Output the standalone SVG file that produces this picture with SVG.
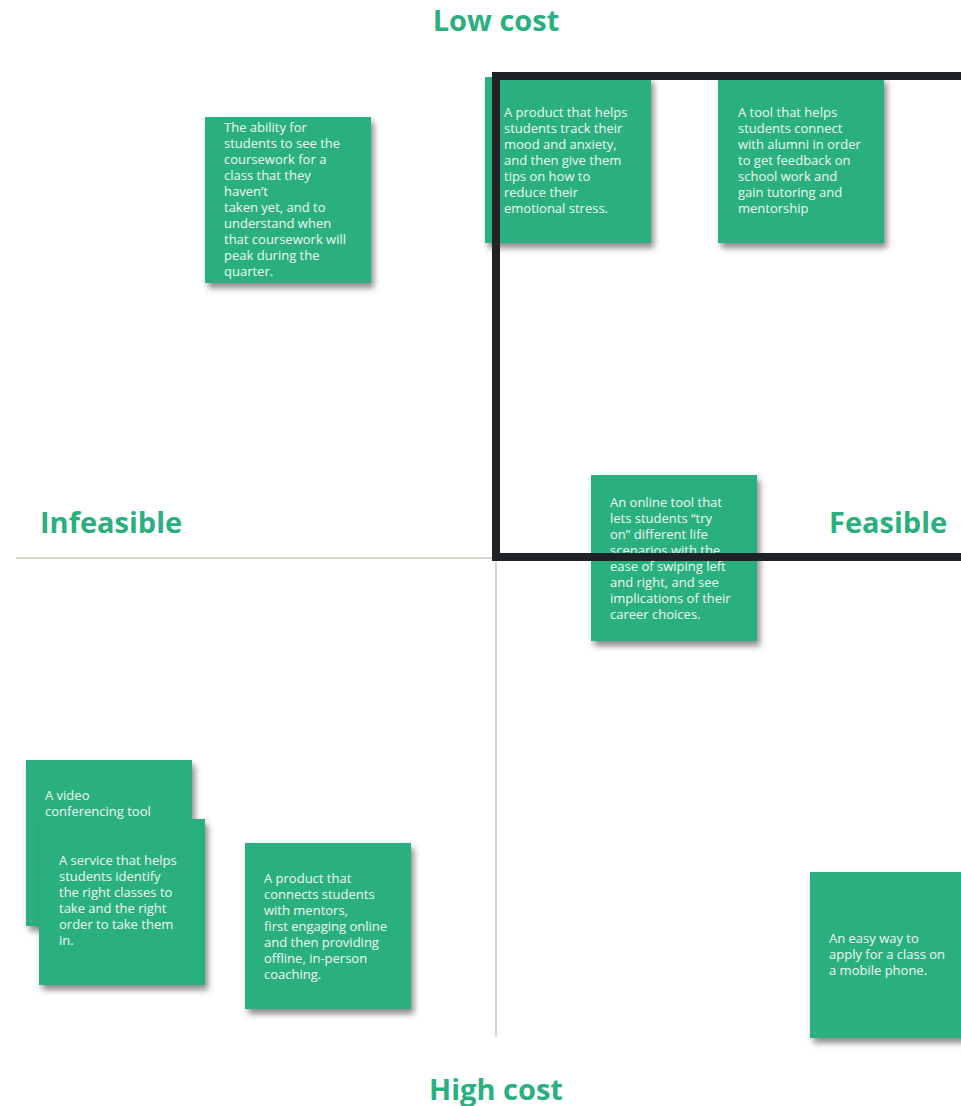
<svg xmlns="http://www.w3.org/2000/svg" width="961" height="1106" viewBox="0 0 961 1106">
<style>
.note{fill:#29B07E;filter:url(#sh)}
.nt{font-family:"Open Sans","Liberation Sans",sans-serif;font-size:13px;fill:#F0F8F4}
.lab{font-family:"Open Sans","Liberation Sans",sans-serif;font-size:29px;font-weight:bold;fill:#29B07E}
.axis{stroke:#C9C9BA;stroke-width:1.5;fill:none}
</style>
<defs>
<filter id="sh" x="-20%" y="-20%" width="150%" height="150%">
<feDropShadow dx="3" dy="5" stdDeviation="3" flood-color="#000" flood-opacity="0.45"/>
</filter>
</defs>
<rect width="961" height="1106" fill="#fff"/>
<g id="axes">
<line class="axis" x1="16" y1="558" x2="961" y2="558"/>
<line class="axis" x1="496" y1="76" x2="496" y2="1037"/>
</g>
<g id="labels">
<text class="lab" x="496" y="31" text-anchor="middle">Low cost</text>
<text class="lab" x="496" y="1100" text-anchor="middle">High cost</text>
<text class="lab" x="40" y="533">Infeasible</text>
<text class="lab" x="829" y="533">Feasible</text>
</g>
<g id="note1">
<rect class="note" x="205" y="117" width="166" height="166"/>
<text class="nt"><tspan x="224" y="132">The ability for</tspan><tspan x="224" dy="16">students to see the</tspan><tspan x="224" dy="16">coursework for a</tspan><tspan x="224" dy="16">class that they</tspan><tspan x="224" dy="16">haven’t</tspan><tspan x="224" dy="16">taken yet, and to</tspan><tspan x="224" dy="16">understand when</tspan><tspan x="224" dy="16">that coursework will</tspan><tspan x="224" dy="16">peak during the</tspan><tspan x="224" dy="16">quarter.</tspan></text>
</g>
<g id="note2">
<rect class="note" x="485" y="77" width="166" height="166"/>
<text class="nt"><tspan x="504" y="117">A product that helps</tspan><tspan x="504" dy="16">students track their</tspan><tspan x="504" dy="16">mood and anxiety,</tspan><tspan x="504" dy="16">and then give them</tspan><tspan x="504" dy="16">tips on how to</tspan><tspan x="504" dy="16">reduce their</tspan><tspan x="504" dy="16">emotional stress.</tspan></text>
</g>
<g id="note3">
<rect class="note" x="718" y="77" width="166" height="166"/>
<text class="nt"><tspan x="738" y="117">A tool that helps</tspan><tspan x="738" dy="16">students connect</tspan><tspan x="738" dy="16">with alumni in order</tspan><tspan x="738" dy="16">to get feedback on</tspan><tspan x="738" dy="16">school work and</tspan><tspan x="738" dy="16">gain tutoring and</tspan><tspan x="738" dy="16">mentorship</tspan></text>
</g>
<g id="note4">
<rect class="note" x="591" y="475" width="166" height="166"/>
<text class="nt"><tspan x="610" y="507">An online tool that</tspan><tspan x="610" dy="16">lets students “try</tspan><tspan x="610" dy="16">on” different life</tspan><tspan x="610" dy="16">scenarios with the</tspan><tspan x="610" dy="16">ease of swiping left</tspan><tspan x="610" dy="16">and right, and see</tspan><tspan x="610" dy="16">implications of their</tspan><tspan x="610" dy="16">career choices.</tspan></text>
</g>
<g id="note5">
<rect class="note" x="26" y="760" width="166" height="166"/>
<text class="nt"><tspan x="45" y="800">A video</tspan><tspan x="45" dy="16">conferencing tool</tspan></text>
</g>
<g id="note6">
<rect class="note" x="39" y="819" width="166" height="166"/>
<text class="nt"><tspan x="59" y="865">A service that helps</tspan><tspan x="59" dy="16">students identify</tspan><tspan x="59" dy="16">the right classes to</tspan><tspan x="59" dy="16">take and the right</tspan><tspan x="59" dy="16">order to take them</tspan><tspan x="59" dy="16">in.</tspan></text>
</g>
<g id="note7">
<rect class="note" x="245" y="843" width="166" height="166"/>
<text class="nt"><tspan x="264" y="883">A product that</tspan><tspan x="264" dy="16">connects students</tspan><tspan x="264" dy="16">with mentors,</tspan><tspan x="264" dy="16">first engaging online</tspan><tspan x="264" dy="16">and then providing</tspan><tspan x="264" dy="16">offline, in-person</tspan><tspan x="264" dy="16">coaching.</tspan></text>
</g>
<g id="note8">
<rect class="note" x="810" y="872" width="166" height="166"/>
<text class="nt"><tspan x="829" y="943">An easy way to</tspan><tspan x="829" dy="16">apply for a class on</tspan><tspan x="829" dy="16">a mobile phone.</tspan></text>
</g>
<g id="highlight">
<rect x="496" y="76" width="480" height="481" fill="none" stroke="#1F2326" stroke-width="8"/>
</g>
</svg>
